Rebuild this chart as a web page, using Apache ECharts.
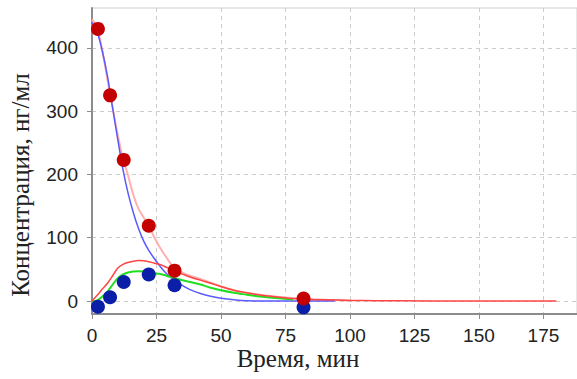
<!DOCTYPE html>
<html>
<head>
<meta charset="utf-8">
<script src="https://cdn.jsdelivr.net/npm/echarts@6/dist/echarts.min.js"></script>
<style>html,body{margin:0;padding:0;background:#fff;}#c{width:577px;height:379px;}</style>
</head>
<body>
<div id="c"></div>
<script>
// Measured points
const obsTime = [2.3, 7, 12.3, 22, 32, 82];
const obsRed = [430, 325, 223, 119, 48, 4];
const obsBlue = [-9, 6, 30, 42, 25, -10];

// Fitted curve (blue)
const blueT = [0, 2, 4, 6, 8, 10, 12, 14, 16, 18, 20, 22, 24, 26, 28, 30, 34, 38, 42, 46, 50, 55, 60, 70, 80, 94];
const blueV = [440, 425, 395, 355, 305, 255, 208, 170, 140, 115, 95, 80, 68, 57, 47, 39, 27, 18, 12, 7.5, 4.5, 2, 0.5, 0, 0, 0];

// Fitted curve (pink)
const pinkT = [0, 2, 4, 6, 8, 10, 12, 14, 16, 18, 20, 22, 24, 26, 28, 30, 32, 34, 38, 42, 46, 50, 55, 60, 65, 70, 75, 80, 90, 100];
const pinkV = [445, 432, 395, 350, 305, 262, 225, 198, 168, 146, 132, 119, 102, 87, 74, 62, 53, 47, 40, 35, 29, 23, 17, 13, 10, 7.5, 5.5, 4, 2, 1];

// Red curve
const redT = [0, 2, 4, 6, 8, 10, 12, 14, 16, 18, 20, 22, 24, 26, 28, 30, 32, 34, 36, 38, 42, 46, 50, 55, 60, 65, 70, 76, 82, 90, 100, 110, 130, 180];
const redV = [0, 9, 19, 28, 40, 52, 58, 61, 63, 64, 63.5, 62, 60, 58, 55, 51, 47, 44, 41, 38, 33, 28, 23, 17, 13, 9.5, 7, 4.5, 3, 2, 1, 0.5, 0.2, 0];

// Green curve
const greenT = [0, 2, 4, 6, 8, 10, 12, 14, 16, 18, 20, 22, 24, 26, 28, 30, 34, 38, 42, 46, 50, 55, 60, 65, 70, 78];
const greenV = [0, 1, 7, 15, 26, 36, 42, 45, 46.5, 47, 46.5, 45.5, 44, 43, 41, 38.5, 34, 30, 26, 21, 17, 13, 10, 7, 5, 2.5];

const xTicks = [0, 25, 50, 75, 100, 125, 150, 175];
const yTicks = [0, 100, 200, 300, 400];

const zip = (a, b) => a.map((v, i) => [v, b[i]]);

const chart = echarts.init(document.getElementById('c'), null, {renderer: 'svg'});
const lbl = {color: '#222', fontFamily: 'Liberation Sans', fontSize: 19};
chart.setOption({
  animation: false,
  backgroundColor: '#fff',
  grid: {left: 92, top: 8, right: -3, bottom: 65, show: true, borderColor: '#cfcfcf', borderWidth: 1},
  xAxis: {
    type: 'value', min: 0, max: 188,
    axisLine: {show: true, onZero: false, lineStyle: {color: '#8c8c8c', width: 2}},
    axisTick: {show: true, length: 5, customValues: xTicks, lineStyle: {color: '#8c8c8c'}},
    axisLabel: Object.assign({margin: 12, customValues: xTicks}, lbl),
    splitLine: {show: true, lineStyle: {color: '#cccccc', type: [4, 4]}}
  },
  yAxis: {
    type: 'value', min: -20.5, max: 463,
    axisLine: {show: true, onZero: false, lineStyle: {color: '#8c8c8c', width: 2}},
    axisTick: {show: true, length: 5, customValues: yTicks, lineStyle: {color: '#8c8c8c'}},
    axisLabel: Object.assign({margin: 14, customValues: yTicks}, lbl),
    splitLine: {show: true, lineStyle: {color: '#cccccc', type: [4, 4]}}
  },
  graphic: [
    {type: 'text', x: 298, y: 358, style: {text: 'Время, мин', font: '25px "Liberation Serif"', fill: '#222', textAlign: 'center', textVerticalAlign: 'middle'}},
    {type: 'text', x: 20, y: 185, rotation: Math.PI / 2, style: {text: 'Концентрация, нг/мл', font: '25px "Liberation Serif"', fill: '#222', textAlign: 'center', textVerticalAlign: 'middle'}}
  ],
  series: [
    {type: 'line', data: zip(pinkT, pinkV), symbol: 'none', smooth: 0.3, lineStyle: {color: '#ffb0b0', width: 2}, z: 2},
    {type: 'line', data: zip(blueT, blueV), symbol: 'none', smooth: 0.3, lineStyle: {color: '#5a5aff', width: 1.5}, z: 3},
    {type: 'line', data: zip(greenT, greenV), symbol: 'none', smooth: 0.3, lineStyle: {color: '#22dd22', width: 2}, z: 3},
    {type: 'line', data: zip(redT, redV), symbol: 'none', smooth: 0.3, lineStyle: {color: '#ff4444', width: 1.5}, z: 4},
    {type: 'scatter', data: zip(obsTime, obsBlue), symbol: 'circle', symbolSize: 14, itemStyle: {color: '#0a1ea8', opacity: 1}, z: 5},
    {type: 'scatter', data: zip(obsTime, obsRed), symbol: 'circle', symbolSize: 14, itemStyle: {color: '#c40000', opacity: 1}, z: 6}
  ]
});
</script>
</body>
</html>
